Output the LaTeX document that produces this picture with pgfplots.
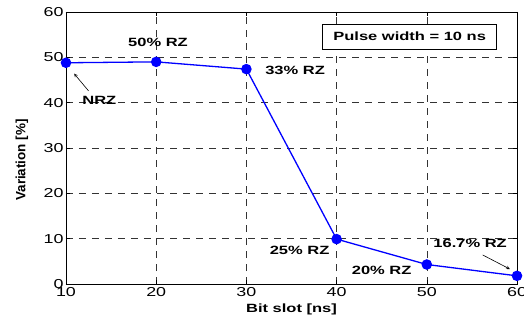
\documentclass[border=0pt]{standalone}
\usepackage{pgfplots}
\pgfplotsset{compat=1.18}
\usepackage{fontspec}
\setmainfont{Liberation Sans}[FakeStretch=1.38]
\newfontfamily\plainfont{Liberation Sans}
\begin{document}
\begin{tikzpicture}
\begin{axis}[
  name=ax,
  scale only axis,
  width=451bp, height=272bp,
  xmin=10, xmax=60, ymin=0, ymax=60,
  xtick={10,20,30,40,50,60},
  ytick={0,10,20,30,40,50,60},
  /pgf/number format/assume math mode=true,
  tick label style={font=\fontsize{13}{15}\selectfont},
  grid=major,
  major grid style={black!80, dash pattern=on 7bp off 6bp, line width=0.6bp},
  axis line style={black, line width=0.9bp},
  tick style={black, line width=0.6bp},
  tick align=inside,
  xlabel={\bfseries Bit slot [ns]},
  ylabel={\plainfont\bfseries Variation [\%]},
  xlabel style={font=\fontsize{12}{14}\selectfont, at={(axis description cs:0.5,-0.095)}, anchor=center},
  ylabel style={font=\fontsize{13.5}{15}\selectfont, at={(axis description cs:-0.0976,0.456)}, anchor=center},
  yticklabel style={xshift=1bp},
  clip=false,
]
\addplot[blue, line width=1.3bp, mark=*, mark size=4.6bp, mark options={fill=blue, draw=blue}]
  coordinates {(10,48.8) (20,49.0) (30,47.4) (40,9.9) (50,4.3) (60,1.8)};
\node[font=\bfseries\fontsize{12}{14}\selectfont] at (axis cs:20.2,53.2) {50\% RZ};
\node[font=\bfseries\fontsize{12}{14}\selectfont] at (axis cs:13.7,40.4) {NRZ};
\node[font=\bfseries\fontsize{12}{14}\selectfont] at (axis cs:35.4,47.2) {33\% RZ};
\node[font=\bfseries\fontsize{12}{14}\selectfont] at (axis cs:35.9,7.5) {25\% RZ};
\node[font=\bfseries\fontsize{12}{14}\selectfont] at (axis cs:45.0,3.1) {20\% RZ};
\node[font=\bfseries\fontsize{12}{14}\selectfont] at (axis cs:54.8,9.0) {16.7\% RZ};
\draw[-stealth, black, line width=0.6bp] (axis cs:12.5,42.6) -- (axis cs:10.9,46.4);
\draw[-stealth, black, line width=0.6bp] (axis cs:56.2,6.4) -- (axis cs:59.2,3.3);
\node[draw=black, fill=white, line width=0.6bp, minimum width=174bp, minimum height=25bp, inner sep=0pt, font=\bfseries\fontsize{12}{14}\selectfont] at (axis cs:48.1,54.6) {Pulse width = 10 ns};
\end{axis}
\pgfresetboundingbox
\path[use as bounding box] ([shift={(-66bp,-40bp)}]ax.south west) rectangle ([shift={(7bp,12bp)}]ax.north east);
\end{tikzpicture}
\end{document}
